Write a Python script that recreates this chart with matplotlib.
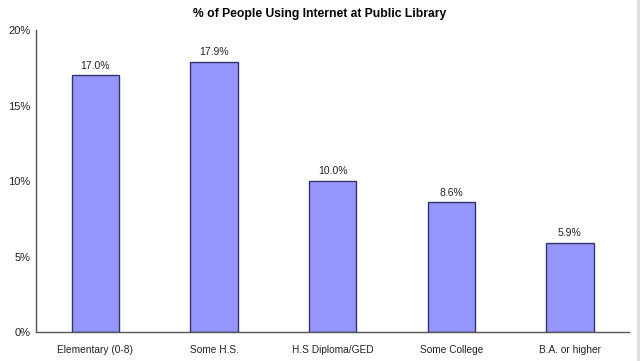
import matplotlib
matplotlib.use("Agg")
import matplotlib.pyplot as plt
from matplotlib.ticker import FuncFormatter

categories = ["Elementary (0-8)", "Some H.S.", "H.S Diploma/GED", "Some College", "B.A. or higher"]
values = [17.0, 17.9, 10.0, 8.6, 5.9]
title = "% of People Using Internet at Public Library"

plt.rcParams['font.family'] = ['Liberation Sans', 'DejaVu Sans']

fig = plt.figure(figsize=(6.4, 3.61), dpi=100)
ax = fig.add_axes([0.05625, 0.0803, 0.927, 0.8366])
x = list(range(len(categories)))
bars = ax.bar(x, values, width=0.4, color="#9696FF", edgecolor="#333366", linewidth=1.0)
for xi, v in zip(x, values):
    ax.text(xi, v + 0.3, f"{v:.1f}%", ha="center", va="bottom", fontsize=7.5, color="#222222")
ax.set_xlim(-0.5, len(categories) - 0.5)
ax.set_ylim(0, 20)
ax.set_yticks([0, 5, 10, 15, 20])
ax.yaxis.set_major_formatter(FuncFormatter(lambda v, p: f"{int(v)}%"))
ax.set_xticks(x)
ax.set_xticklabels(categories)
ax.tick_params(axis="y", length=0, labelsize=8, colors="#222222", pad=4)
ax.tick_params(axis="x", length=0, labelsize=7.3, colors="#222222", pad=9)
for s in ["top", "right"]:
    ax.spines[s].set_visible(False)
for s in ["left", "bottom"]:
    ax.spines[s].set_color("#555555")
    ax.spines[s].set_linewidth(1.0)
fig.text(0.5, 0.962, title, ha="center", va="center", fontsize=8.7, fontweight="bold")
fig.add_artist(plt.Line2D([0.997, 0.997], [0, 1], color="#dddddd", linewidth=2))
fig.savefig("out.png", dpi=100)
